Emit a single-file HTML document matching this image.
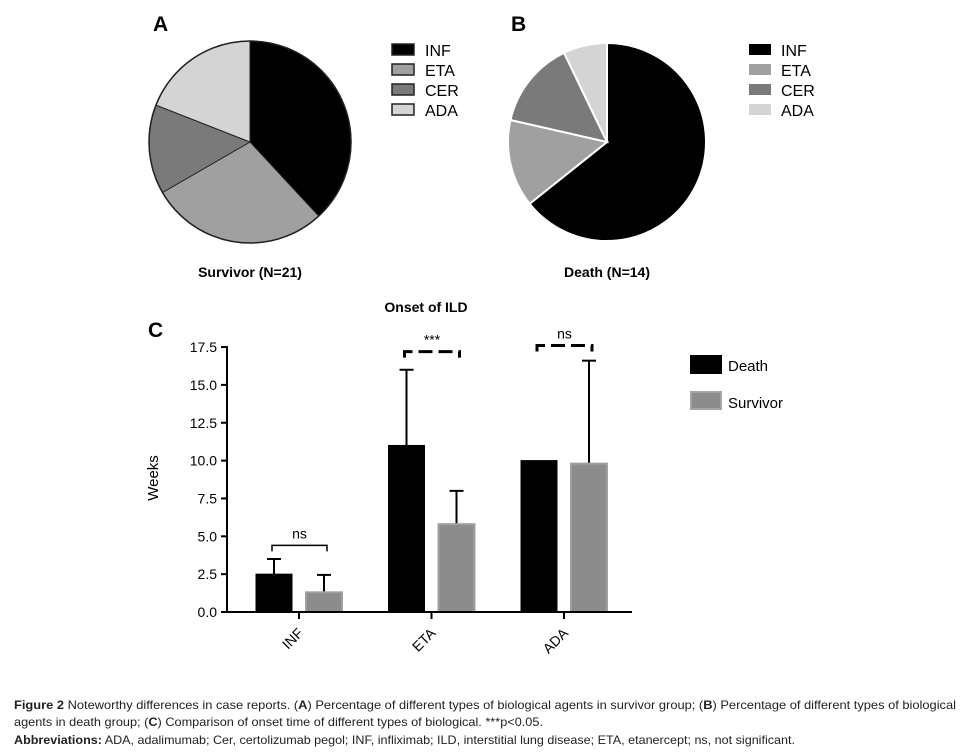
<!DOCTYPE html>
<html><head><meta charset="utf-8"><style>body{margin:0;background:#fff}svg{display:block;font-family:"Liberation Sans",sans-serif}</style></head>
<body>
<svg id="fig" width="962" height="753" viewBox="0 0 962 753">
<text x="153" y="31" font-size="21" font-weight="bold">A</text>
<text x="511" y="31" font-size="21" font-weight="bold">B</text>
<g id="pieA"></g>
<g id="pieB"></g>
<g id="legA"></g>
<g id="legB"></g>
<text x="250" y="277" font-size="14" font-weight="bold" text-anchor="middle">Survivor (N=21)</text>
<text x="607" y="277" font-size="14" font-weight="bold" text-anchor="middle">Death (N=14)</text>
<text x="426" y="312" font-size="14" font-weight="bold" text-anchor="middle">Onset of ILD</text>
<text x="148" y="337" font-size="21" font-weight="bold">C</text>
<text x="0" y="0" font-size="15" text-anchor="middle" transform="translate(158,478) rotate(-90)">Weeks</text>
<g id="bars"></g>
<rect x="690" y="355" width="32" height="19" fill="#000"/>
<text x="728" y="371" font-size="15">Death</text>
<rect x="691" y="392" width="30" height="17" fill="#8c8c8c" stroke="#a4a4a4" stroke-width="2"/>
<text x="728" y="408" font-size="15">Survivor</text>
<g font-size="12" fill="#222">
<text x="14" y="709" textLength="942" lengthAdjust="spacingAndGlyphs"><tspan font-weight="bold">Figure 2</tspan> Noteworthy differences in case reports. (<tspan font-weight="bold">A</tspan>) Percentage of different types of biological agents in survivor group; (<tspan font-weight="bold">B</tspan>) Percentage of different types of biological</text>
<text x="14" y="726" textLength="529" lengthAdjust="spacingAndGlyphs">agents in death group; (<tspan font-weight="bold">C</tspan>) Comparison of onset time of different types of biological. ***p&lt;0.05.</text>
<text x="14" y="744" textLength="781" lengthAdjust="spacingAndGlyphs"><tspan font-weight="bold">Abbreviations:</tspan> ADA, adalimumab; Cer, certolizumab pegol; INF, infliximab; ILD, interstitial lung disease; ETA, etanercept; ns, not significant.</text>
</g>
</svg>
<script>
const NS='http://www.w3.org/2000/svg';
const pieCats=['INF','ETA','CER','ADA'];
const survivorCounts=[8,6,3,4];
const deathCounts=[9,2,2,1];
const pieColors=['#000','#a0a0a0','#7a7a7a','#d4d4d4'];
const barCats=['INF','ETA','ADA'];
const deathMeans=[2.5,11,10];
const deathErr=[3.5,16,10];
const survMeans=[1.3,5.8,9.8];
const survErr=[2.45,8,16.6];
const yTicks=[0,2.5,5,7.5,10,12.5,15,17.5];
const sigLabels=['ns','***','ns'];
const sigY=[4.4,17.2,17.6];
function mk(t,a,p){const e=document.createElementNS(NS,t);for(const k in a)e.setAttribute(k,a[k]);p.appendChild(e);return e;}
function pie(g,counts,cx,cy,r,stroke){
  const tot=counts.reduce((a,b)=>a+b,0);let a0=0;
  counts.forEach((c,i)=>{const a1=a0+c/tot*2*Math.PI;
    const x0=cx+r*Math.sin(a0),y0=cy-r*Math.cos(a0),x1=cx+r*Math.sin(a1),y1=cy-r*Math.cos(a1);
    const p=mk('path',{d:`M${cx},${cy}L${x0},${y0}A${r},${r} 0 ${a1-a0>Math.PI?1:0} 1 ${x1},${y1}Z`,fill:pieColors[i],stroke:stroke,'stroke-width':stroke=='#fff'?2:1},g);
    
    
    a0=a1;});
  if(stroke!='#fff'){const c=mk('circle',{cx,cy,r,fill:'none',stroke:'#222','stroke-width':1.5},g);
    
    }
}
pie(document.getElementById('pieA'),survivorCounts,250,142,101,'#222');
pie(document.getElementById('pieB'),deathCounts,607,142,99,'#fff');
function legend(g,x,tx,outline){pieCats.forEach((c,i)=>{const y=44+i*20;
  const r=mk('rect',{x,y,width:22,height:11,fill:pieColors[i],stroke:outline?'#222':'none','stroke-width':1.5},g);
  
  
  const t=mk('text',{x:tx,y:y+12,'font-size':16},g);t.textContent=c;
  
  });}
legend(document.getElementById('legA'),392,425,true);
legend(document.getElementById('legB'),749,781,false);
const g=document.getElementById('bars');
const X0=227,X1=632,Y0=612,PX=15.14;
const ys=v=>Y0-v*PX;
const groupX=i=>299+i*132.5;
yTicks.forEach(v=>{const l=mk('line',{x1:X0-6,x2:X0,y1:ys(v),y2:ys(v),stroke:'#000','stroke-width':2},g);
  
  
  const t=mk('text',{x:X0-10,y:ys(v)+5,'font-size':14,'text-anchor':'end'},g);t.textContent=v.toFixed(1);
  
  });
barCats.forEach((c,i)=>{const gx=groupX(i);
  const bx=[gx-43,gx+7];
  [[deathMeans,deathErr,'#000','death'],[survMeans,survErr,'#8c8c8c','survivor']].forEach((s,j)=>{
    const v=s[0][i],e=s[1][i],x=bx[j],cx=x+18;
    if(e>v){const l=mk('line',{x1:cx,x2:cx,y1:ys(v),y2:ys(e),stroke:'#000','stroke-width':2},g);
      
      
      const cp=mk('line',{x1:cx-7,x2:cx+7,y1:ys(e),y2:ys(e),stroke:'#000','stroke-width':2},g);
      
      }
    const r=mk('rect',{x:x,y:ys(v),width:36,height:v*PX,fill:s[2],stroke:j?'#a0a0a0':'#000','stroke-width':j?2:1},g);
    
    });
  const tk=mk('line',{x1:gx,x2:gx,y1:Y0,y2:Y0+7,stroke:'#000','stroke-width':2},g);
  
  
  const t=mk('text',{x:0,y:0,'font-size':14,'text-anchor':'end',transform:`translate(${gx+5},${Y0+22}) rotate(-45)`},g);t.textContent=c;
  
  
  const by=ys(sigY[i]),xa=gx-27,xb=gx+28;
  const br=mk('path',{d:`M${xa},${by+6}V${by}H${xb}V${by+6}`,fill:'none',stroke:'#000','stroke-width':i==0?1.5:3,'stroke-dasharray':i==0?'none':'14 6'},g);
  
  
  const st=mk('text',{x:(xa+xb)/2,y:by-7,'font-size':14,'text-anchor':'middle'},g);st.textContent=sigLabels[i];
  
  
});
const ya=mk('line',{x1:X0,x2:X0,y1:ys(17.5)-1,y2:Y0,stroke:'#000','stroke-width':2},g);


const xa=mk('line',{x1:X0-6,x2:X1,y1:Y0,y2:Y0,stroke:'#000','stroke-width':2},g);


</script>
</body></html>
